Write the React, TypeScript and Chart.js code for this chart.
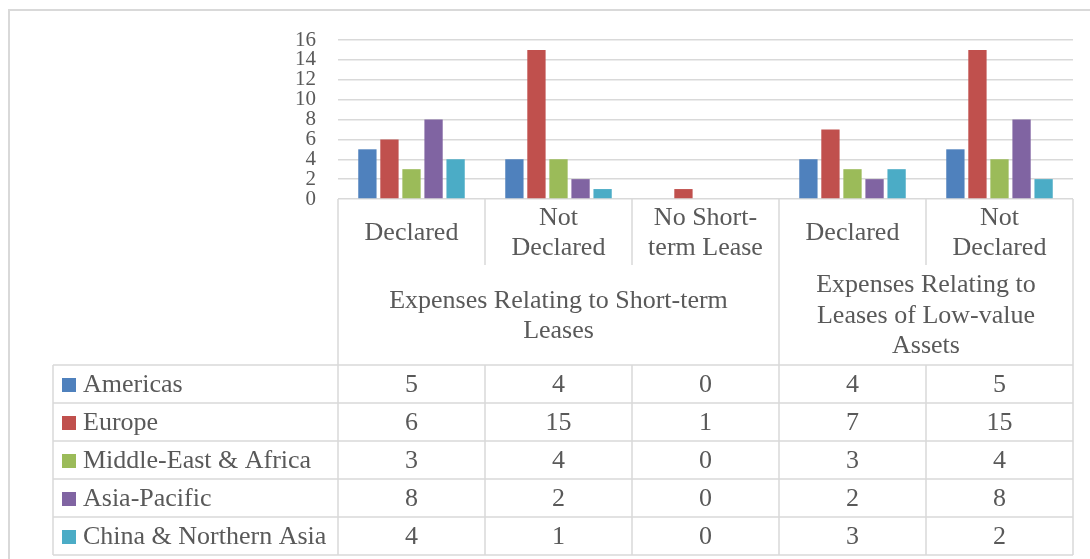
import React, { useEffect, useRef } from "react";
import { Chart, registerables } from "chart.js";

Chart.register(...registerables);

const categories: string[][] = [["Declared"], ["Not", "Declared"], ["No Short-", "term Lease"], ["Declared"], ["Not", "Declared"]];
const groups = [
  { lines: ["Expenses Relating to Short-term", "Leases"], from: 0, to: 2 },
  { lines: ["Expenses Relating to", "Leases of Low-value", "Assets"], from: 3, to: 4 },
];
const seriesNames = ["Americas", "Europe", "Middle-East & Africa", "Asia-Pacific", "China & Northern Asia"];
const americas = [5, 4, 0, 4, 5];
const europe = [6, 15, 1, 7, 15];
const middleEastAfrica = [3, 4, 0, 3, 4];
const asiaPacific = [8, 2, 0, 2, 8];
const chinaNorthernAsia = [4, 1, 0, 3, 2];
const seriesColors = ["#4F81BD", "#C0504D", "#9BBB59", "#8064A2", "#4BACC6"];
const yTicks = [0, 2, 4, 6, 8, 10, 12, 14, 16];

const TEXT = "#595959";
const LINE = "#D9D9D9";
const FAMILY = '"Liberation Serif", "Times New Roman", serif';
const FONT = "26px " + FAMILY;

export default function App() {
  const ref = useRef<HTMLCanvasElement | null>(null);
  useEffect(() => {
    document.body.style.margin = "0";
    const seriesData = [americas, europe, middleEastAfrica, asiaPacific, chinaNorthernAsia];
    const tablePlugin = {
      id: "tablePlugin",
      afterDraw(chart: any) {
        const ctx = chart.ctx as CanvasRenderingContext2D;
        const x = chart.scales.x;
        const area = chart.chartArea;
        const n = categories.length;
        const colW = (area.right - area.left) / n;
        const bnd = (i: number) => area.left + colW * i;
        const catTop = area.bottom;
        const catBottom = catTop + 66;
        const tableTop = catTop + 166;
        const rowH = 38;
        const tableBottom = tableTop + rowH * seriesNames.length;
        const tableLeft = 53;
        ctx.save();
        // outer frame
        ctx.strokeStyle = LINE;
        ctx.lineWidth = 2;
        ctx.beginPath();
        ctx.moveTo(9, 600);
        ctx.lineTo(9, 10);
        ctx.lineTo(1100, 10);
        ctx.stroke();

        ctx.lineWidth = 1.5;
        ctx.beginPath();
        const vline = (xx: number, y1: number, y2: number) => {
          ctx.moveTo(xx, y1);
          ctx.lineTo(xx, y2);
        };
        const hline = (yy: number, x1: number, x2: number) => {
          ctx.moveTo(x1, yy);
          ctx.lineTo(x2, yy);
        };
        for (let i = 0; i <= n; i++) {
          const xx = bnd(i);
          const isGroupEdge = i === 0 || i === n || groups.some((g) => g.from === i);
          if (isGroupEdge) vline(xx, catTop, tableBottom);
          else {
            vline(xx, catTop, catBottom);
            vline(xx, tableTop, tableBottom);
          }
        }
        vline(tableLeft, tableTop, tableBottom);
        for (let r = 0; r <= seriesNames.length; r++) hline(tableTop + r * rowH, tableLeft, area.right);
        ctx.stroke();

        ctx.fillStyle = TEXT;
        ctx.font = FONT;
        ctx.textAlign = "center";
        ctx.textBaseline = "middle";
        const lh = 29.5;
        categories.forEach((lines, i) => {
          const cx = x.getPixelForValue(i);
          const cy = (catTop + catBottom) / 2 + 1;
          lines.forEach((t, k) => ctx.fillText(t, cx, cy + (k - (lines.length - 1) / 2) * lh));
        });
        groups.forEach((g) => {
          const cx = (bnd(g.from) + bnd(g.to + 1)) / 2;
          const cy = (catBottom + tableTop) / 2 + 1;
          g.lines.forEach((t, k) => ctx.fillText(t, cx, cy + (k - (g.lines.length - 1) / 2) * 30.5));
        });
        seriesNames.forEach((name, r) => {
          const cy = tableTop + r * rowH + rowH / 2 + 1;
          ctx.fillStyle = seriesColors[r];
          ctx.fillRect(62, cy - 7, 14, 14);
          ctx.fillStyle = TEXT;
          ctx.textAlign = "left";
          ctx.fillText(name, 83, cy);
          ctx.textAlign = "center";
          seriesData[r].forEach((v, i) => ctx.fillText(String(v), x.getPixelForValue(i), cy));
        });
        ctx.restore();
      },
    };
    const chart = new Chart(ref.current as HTMLCanvasElement, {
      type: "bar",
      data: {
        labels: categories.map((c) => c.join(" ")),
        datasets: seriesNames.map((name, i) => ({
          label: name,
          data: seriesData[i],
          backgroundColor: seriesColors[i],
          borderWidth: 0,
          barPercentage: 0.83,
          categoryPercentage: 0.75,
        })),
      },
      options: {
        animation: false,
        responsive: false,
        devicePixelRatio: 1,
        layout: { padding: { left: 0, top: 40, right: 17, bottom: 0 } },
        plugins: { legend: { display: false }, tooltip: { enabled: false } },
        scales: {
          x: {
            grid: { display: false },
            border: { display: false },
            ticks: { display: false },
            afterFit: (s: any) => {
              s.height = 360;
            },
          },
          y: {
            min: 0,
            max: 16,
            afterBuildTicks: (s: any) => {
              s.ticks = yTicks.map((v) => ({ value: v }));
            },
            grid: { color: LINE, lineWidth: 1.5, drawTicks: false },
            border: { display: false },
            ticks: {
              color: TEXT,
              padding: 22,
              autoSkip: false,
              font: { family: FAMILY, size: 21, lineHeight: 1 },
            },
            afterFit: (s: any) => {
              s.width = 338;
            },
          },
        },
      },
      plugins: [tablePlugin],
    });
    return () => chart.destroy();
  }, []);
  return (
    <div style={{ width: 1090, height: 559, background: "#fff" }}>
      <canvas ref={ref} width={1090} height={559} style={{ display: "block" }} />
    </div>
  );
}
